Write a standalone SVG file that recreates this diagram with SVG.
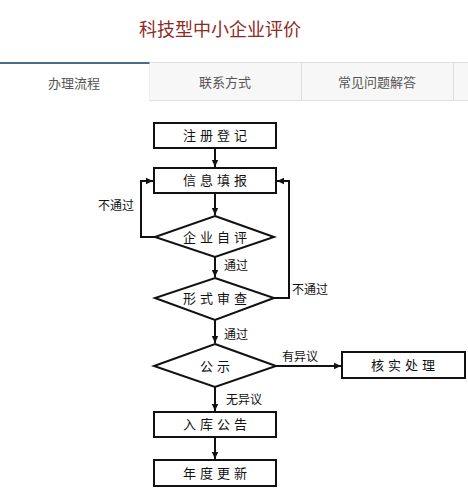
<svg xmlns="http://www.w3.org/2000/svg" width="468" height="500" viewBox="0 0 468 500">
<defs>
<marker id="ah" markerUnits="userSpaceOnUse" markerWidth="8" markerHeight="8" refX="7" refY="4" orient="auto">
<path d="M0,0.8 L7,4 L0,7.2 Z" fill="#111"/>
</marker>
</defs>
<style>
.t{font-family:"Noto Sans CJK SC","Noto Sans",sans-serif;}
.node{fill:#fff;stroke:#111;stroke-width:2;}
.nt{font-size:13px;letter-spacing:4px;fill:#111;text-anchor:middle;}
.lb{font-size:12px;fill:#111;}
.edge{fill:none;stroke:#111;stroke-width:2;}
.tab{fill:#f7f7f7;stroke:#dedede;stroke-width:1;}
.tt{font-size:13px;fill:#555;text-anchor:middle;}
</style>
<rect width="468" height="500" fill="#fff"/>
<text class="t" x="220" y="36" font-size="18" fill="#8e2a26" text-anchor="middle">科技型中小企业评价</text>
<g id="tabs">
<rect class="tab" x="149.5" y="62.5" width="152" height="38"/>
<rect class="tab" x="301.5" y="62.5" width="152" height="38"/>
<rect class="tab" x="453.5" y="62.5" width="20" height="38"/>
<rect x="0" y="62" width="149.5" height="39" fill="#fff"/>
<rect x="0" y="62" width="149.5" height="2" fill="#4a6b86"/>
<text class="t tt" x="74" y="88">办理流程</text>
<text class="t tt" x="225" y="87">联系方式</text>
<text class="t tt" x="377" y="87">常见问题解答</text>
</g>
<g id="connectors">
<line class="edge" x1="215" y1="148" x2="215" y2="167" marker-end="url(#ah)"/>
<line class="edge" x1="215" y1="193" x2="215" y2="215" marker-end="url(#ah)"/>
<polyline class="edge" points="155,237 141,237 141,181 153,181" marker-end="url(#ah)"/>
<line class="edge" x1="215" y1="257" x2="215" y2="277" marker-end="url(#ah)"/>
<polyline class="edge" points="274,298 289,298 289,181 277,181" marker-end="url(#ah)"/>
<line class="edge" x1="215" y1="320" x2="215" y2="343" marker-end="url(#ah)"/>
<line class="edge" x1="276" y1="366" x2="341" y2="366" marker-end="url(#ah)"/>
<line class="edge" x1="215" y1="387" x2="215" y2="411" marker-end="url(#ah)"/>
<line class="edge" x1="215" y1="437" x2="215" y2="459" marker-end="url(#ah)"/>
<text class="t lb" x="98" y="210">不通过</text>
<text class="t lb" x="224" y="270">通过</text>
<text class="t lb" x="292" y="294">不通过</text>
<text class="t lb" x="224" y="339">通过</text>
<text class="t lb" x="282" y="361">有异议</text>
<text class="t lb" x="226" y="404">无异议</text>
</g>
<g id="n1"><rect class="node" x="154" y="123" width="122" height="25"/><text class="t nt" x="217" y="140">注册登记</text></g>
<g id="n2"><rect class="node" x="154" y="168" width="122" height="25"/><text class="t nt" x="217" y="185">信息填报</text></g>
<g id="n3"><polygon class="node" points="215,216 274,237 215,257 155,237"/><text class="t nt" x="217" y="242">企业自评</text></g>
<g id="n4"><polygon class="node" points="215,278 274,298 215,320 155,298"/><text class="t nt" x="217" y="303">形式审查</text></g>
<g id="n5"><polygon class="node" points="215,344 276,366 215,387 154,366"/><text class="t nt" x="217" y="371">公示</text></g>
<g id="n6"><rect class="node" x="342" y="352" width="123" height="26"/><text class="t nt" x="405" y="370">核实处理</text></g>
<g id="n7"><rect class="node" x="154" y="412" width="122" height="25"/><text class="t nt" x="217" y="429">入库公告</text></g>
<g id="n8"><rect class="node" x="154" y="460" width="122" height="26"/><text class="t nt" x="217" y="478">年度更新</text></g>
</svg>
